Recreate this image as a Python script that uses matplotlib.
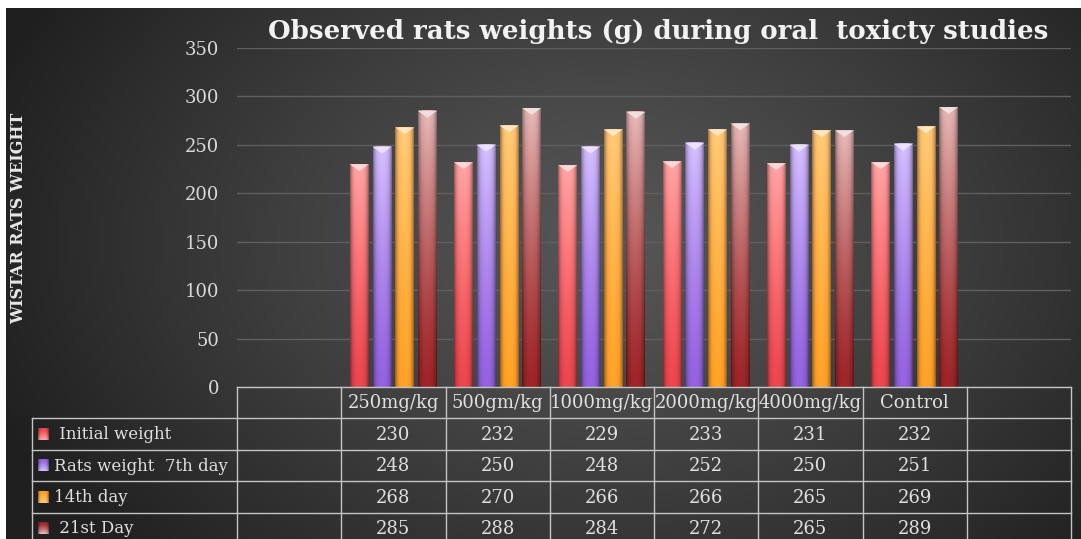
import numpy as np
import matplotlib.pyplot as plt
from matplotlib.colors import to_rgb
from matplotlib.patches import Polygon

# ---- data ----
categories = ['', '250mg/kg', '500gm/kg', '1000mg/kg', '2000mg/kg', '4000mg/kg', 'Control', '']
series_names = [' Initial weight', 'Rats weight  7th day', '14th day', ' 21st Day']
initial_weight = [230, 232, 229, 233, 231, 232]
day7_weight = [248, 250, 248, 252, 250, 251]
day14_weight = [268, 270, 266, 266, 265, 269]
day21_weight = [285, 288, 284, 272, 265, 289]
y_ticks = [0, 50, 100, 150, 200, 250, 300, 350]

series_values = [initial_weight, day7_weight, day14_weight, day21_weight]
# (top colour, bottom colour) for each series
series_colors = [('#ff9e9e', '#e2434a'),
                 ('#cbb6f4', '#8d5ed6'),
                 ('#ffc272', '#ff9c26'),
                 ('#dcb0ae', '#972326')]

W, H = 1081, 539
FONT = 'DejaVu Serif'
plt.rcParams['font.family'] = FONT


def bar_image(top, bottom, ny=80, nx=20):
    top = np.array(to_rgb(top))
    bottom = np.array(to_rgb(bottom))
    t = np.linspace(0, 1, ny)[:, None, None] ** 1.3
    col = bottom + (top - bottom) * t
    u = np.linspace(-1, 1, nx)[None, :, None]
    shade = 1 - 0.38 * np.abs(u) ** 4 + 0.06 * (1 - np.abs(u))
    return np.clip(col * shade, 0, 1)


fig = plt.figure(figsize=(W / 100, H / 100), dpi=100, facecolor='white')

# dark radial background
bg = fig.add_axes([6 / W, 0, 1 - 6 / W, (H - 8) / H])
gy, gx = np.mgrid[0:H - 8, 0:W - 6]
r = np.sqrt(((gx - 600) / 660.0) ** 2 + ((gy - 235) / 470.0) ** 2)
r = np.clip(r, 0, 1) ** 1.2
inner = np.array(to_rgb('#565656'))
outer = np.array(to_rgb('#1f1f1f'))
bg.imshow(inner + (outer - inner) * r[..., None], aspect='auto', interpolation='bilinear')
bg.axis('off')

# main plot
ax = fig.add_axes([237 / W, (H - 387) / H, (1071 - 237) / W, (387 - 48) / H])
ax.set_facecolor('none')
width = 0.182
step = 0.218
for k, (vals, (ctop, cbot)) in enumerate(zip(series_values, series_colors)):
    img = bar_image(ctop, cbot)
    tip = np.clip(np.array(to_rgb(ctop)) * 0.3 + 0.7, 0, 1)
    for i, v in enumerate(vals):
        xc = i + 1 + (k - 1.5) * step
        x0, x1 = xc - width / 2, xc + width / 2
        ax.imshow(img, extent=(x0, x1, 0, v), origin='lower', aspect='auto',
                  interpolation='bilinear', zorder=2)
        ax.add_patch(Polygon([(x0, v), (x1, v), (xc, v - 7)], closed=True,
                             facecolor=tip, edgecolor='none', alpha=0.85, zorder=3))

ax.set_xlim(-0.5, len(categories) - 0.5)
ax.set_ylim(0, 350)
ax.set_yticks(y_ticks)
ax.set_xticks([])
ax.set_axisbelow(True)
ax.yaxis.grid(True, color='#5f5f5f', lw=1)
ax.tick_params(axis='y', length=0, labelcolor='#d9d9d9', labelsize=13, pad=13)
for s in ax.spines.values():
    s.set_visible(False)

# data table under the plot
col_px = (1071 - 237) / len(categories)
x_left = -0.5 - (237 - 32) / col_px
tab = fig.add_axes([32 / W, (H - 544) / H, (1071 - 32) / W, (544 - 387) / H])
tab.set_xlim(x_left, len(categories) - 0.5)
tab.set_ylim(5, 0)
tab.axis('off')
line_kw = dict(color='#c4c4c4', lw=1, clip_on=False)
tab.plot([-0.5, len(categories) - 0.5], [0, 0], **line_kw)
for rr in range(1, 6):
    tab.plot([x_left, len(categories) - 0.5], [rr, rr], **line_kw)
tab.plot([x_left, x_left], [1, 5], **line_kw)
for j in range(len(categories) + 1):
    tab.plot([j - 0.5, j - 0.5], [0, 5], **line_kw)

txt_kw = dict(color='#e0e0e0', va='center', family=FONT)
for j, c in enumerate(categories):
    tab.text(j, 0.52, c, ha='center', fontsize=13, **txt_kw)
for k, (name, vals, (ctop, cbot)) in enumerate(zip(series_names, series_values, series_colors)):
    for i, v in enumerate(vals):
        tab.text(i + 1, k + 1.52, str(v), ha='center', fontsize=13, **txt_kw)
    mx0 = x_left + 6 / col_px
    tab.imshow(bar_image(ctop, cbot, ny=12, nx=12), extent=(mx0, mx0 + 11 / col_px, k + 1.68, k + 1.32),
               aspect='auto', interpolation='bilinear', zorder=2)
    tab.text(x_left + 22 / col_px, k + 1.52, name, ha='left', fontsize=12, **txt_kw)
tab.set_xlim(x_left, len(categories) - 0.5)
tab.set_ylim(5, 0)

# axis label and title
fig.text(19 / W, 1 - 218 / H, 'WISTAR RATS WEIGHT', rotation=90, ha='center', va='center',
         color='#e8e8e8', fontsize=11.5, fontweight='bold', family=FONT)
title = fig.text(658 / W, 1 - 31 / H, 'Observed rats weights (g) during oral  toxicty studies',
                 ha='center', va='center', color='#f2f2f2', fontsize=18, fontweight='bold', family=FONT)
renderer = fig.canvas.get_renderer()
tw = title.get_window_extent(renderer).width
title.set_fontsize(18 * 780 / tw)

fig.savefig('out.png', dpi=100, facecolor=fig.get_facecolor())
